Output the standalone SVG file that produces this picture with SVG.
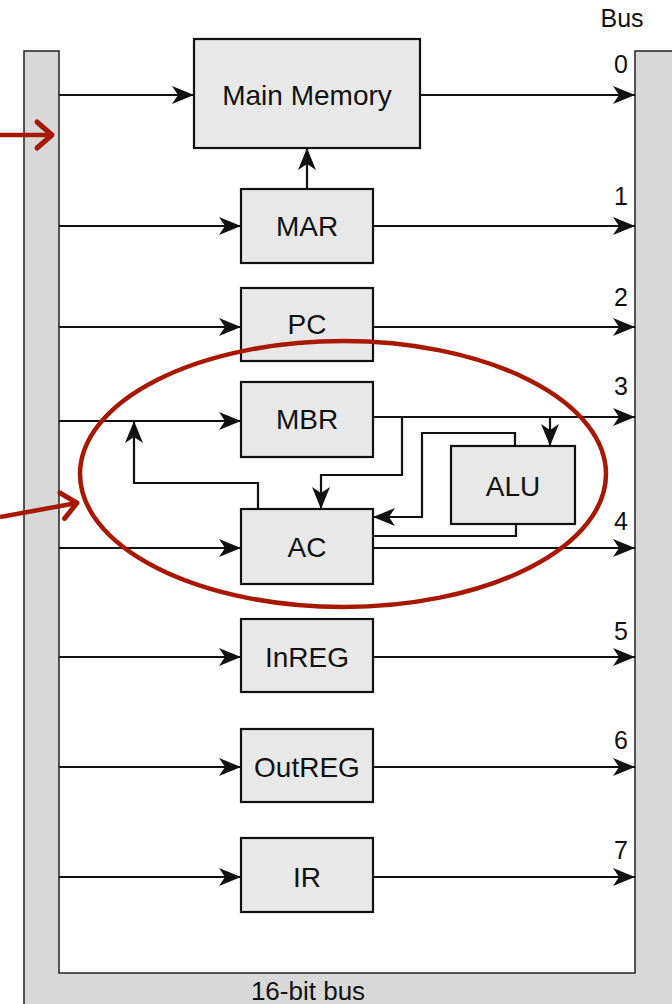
<svg xmlns="http://www.w3.org/2000/svg" width="672" height="1004" viewBox="0 0 672 1004">
<style>
.box{fill:#e8e8e8;stroke:#111;stroke-width:2.2}
.lbl{font-family:"Liberation Sans",Arial,sans-serif;font-size:28px;fill:#111;text-anchor:middle}
.num{font-family:"Liberation Sans",Arial,sans-serif;font-size:25px;fill:#111;text-anchor:middle}
.wire{fill:none;stroke:#111;stroke-width:2.2}
.wirea{fill:none;stroke:#111;stroke-width:2.2;marker-end:url(#ah)}
.red{fill:none;stroke:#a81800;stroke-width:4.5}
</style>
<defs>
<marker id="ah" markerUnits="userSpaceOnUse" markerWidth="24" markerHeight="20" refX="22" refY="9" orient="auto">
<path d="M0,0 L22,9 L0,18 L6,9 Z" fill="#111"/>
</marker>
<marker id="rh" markerUnits="userSpaceOnUse" markerWidth="26" markerHeight="34" refX="20" refY="17" orient="auto">
<path d="M5,4 L20,17 L5,30" fill="none" stroke="#a81800" stroke-width="5" stroke-linecap="round" stroke-linejoin="round"/>
</marker>
</defs>
<rect width="672" height="1004" fill="#fff"/>
<g id="bus">
<path d="M24,1010 V51 H59 V973 H635 V51 H680 V1010 Z" fill="#d8d8d8" stroke="#222" stroke-width="1.5"/>
<text class="lbl" x="308" y="1000" style="font-size:26px">16-bit bus</text>
<text class="lbl" x="622" y="27" style="font-size:25px">Bus</text>
</g>
<g id="connectors">
<line class="wirea" x1="59" y1="95" x2="194" y2="95"/>
<line class="wirea" x1="420" y1="95" x2="635" y2="95"/>
<line class="wirea" x1="307" y1="189" x2="307" y2="148"/>
<line class="wirea" x1="59" y1="226" x2="241" y2="226"/>
<line class="wirea" x1="373" y1="226" x2="635" y2="226"/>
<line class="wirea" x1="59" y1="327" x2="241" y2="327"/>
<line class="wirea" x1="373" y1="327" x2="635" y2="327"/>
<line class="wirea" x1="59" y1="421" x2="241" y2="421"/>
<line class="wirea" x1="373" y1="417" x2="635" y2="417"/>
<polyline class="wirea" points="402,417 402,475 321,475 321,509"/>
<line class="wirea" x1="550" y1="417" x2="550" y2="446"/>
<polyline class="wirea" points="258,509 258,483 134,483 134,421"/>
<polyline class="wirea" points="515,446 515,433 422,433 422,517 373,517"/>
<polyline class="wire" points="373,536 516,536 516,523"/>
<line class="wirea" x1="59" y1="548" x2="241" y2="548"/>
<line class="wirea" x1="373" y1="548" x2="635" y2="548"/>
<line class="wirea" x1="59" y1="657" x2="241" y2="657"/>
<line class="wirea" x1="373" y1="657" x2="635" y2="657"/>
<line class="wirea" x1="59" y1="767" x2="241" y2="767"/>
<line class="wirea" x1="373" y1="767" x2="635" y2="767"/>
<line class="wirea" x1="59" y1="877" x2="241" y2="877"/>
<line class="wirea" x1="373" y1="877" x2="635" y2="877"/>
<text class="num" x="621" y="73">0</text>
<text class="num" x="621" y="205">1</text>
<text class="num" x="621" y="306">2</text>
<text class="num" x="621" y="395">3</text>
<text class="num" x="621" y="530">4</text>
<text class="num" x="621" y="640">5</text>
<text class="num" x="621" y="749">6</text>
<text class="num" x="621" y="859">7</text>
</g>
<g id="mainmem"><rect class="box" x="194" y="39" width="226" height="109"/><text class="lbl" x="307" y="105">Main Memory</text></g>
<g id="mar"><rect class="box" x="241" y="189" width="132" height="74"/><text class="lbl" x="307" y="236">MAR</text></g>
<g id="pc"><rect class="box" x="241" y="288" width="132" height="73"/><text class="lbl" x="307" y="334">PC</text></g>
<g id="mbr"><rect class="box" x="241" y="382" width="132" height="75"/><text class="lbl" x="307" y="429">MBR</text></g>
<g id="alu"><rect class="box" x="451" y="446" width="124" height="78"/><text class="lbl" x="513" y="496">ALU</text></g>
<g id="ac"><rect class="box" x="241" y="509" width="132" height="75"/><text class="lbl" x="307" y="557">AC</text></g>
<g id="inreg"><rect class="box" x="241" y="619" width="132" height="73"/><text class="lbl" x="307" y="667">InREG</text></g>
<g id="outreg"><rect class="box" x="241" y="729" width="132" height="73"/><text class="lbl" x="307" y="777">OutREG</text></g>
<g id="ir"><rect class="box" x="241" y="838" width="132" height="74"/><text class="lbl" x="307" y="887">IR</text></g>
<g id="highlight">
<ellipse class="red" cx="343" cy="474" rx="263" ry="133"/>
<line class="red" x1="0" y1="135" x2="52" y2="135" marker-end="url(#rh)"/>
<line class="red" x1="0" y1="517" x2="77" y2="503" marker-end="url(#rh)"/>
</g>
</svg>
